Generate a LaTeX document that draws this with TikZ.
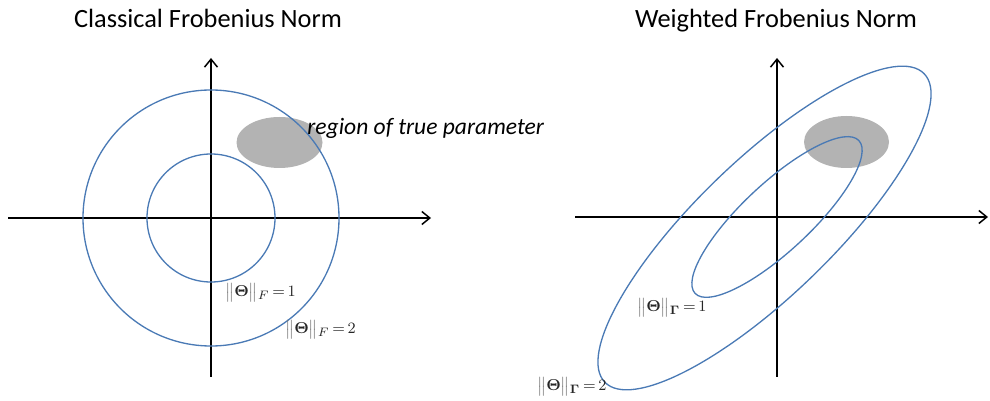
\documentclass[tikz,border=0pt]{standalone}
\usepackage{fontspec}
\usepackage{amsmath}
\usepackage{bm}
\setmainfont{Carlito}
\usetikzlibrary{positioning, arrows.meta, calc}
\definecolor{cNORM}{HTML}{4A7AB5}
\definecolor{cREGION}{HTML}{B3B3B3}
\tikzset{
  axis/.style={
    -{Straight Barb[length=1.6mm,width=2.6mm]},
    line width=0.85pt,
    draw=black
  },
  normcurve/.style={
    draw=cNORM,
    line width=0.75pt
  },
  region/.style={
    fill=cREGION,
    draw=none
  },
  plottitle/.style={
    font=\fontsize{15}{18}\selectfont,
    anchor=base,
    inner sep=0pt
  },
  regionlabel/.style={
    font=\fontsize{13.4}{16}\selectfont\itshape,
    anchor=base west,
    inner sep=0pt
  },
  normlabel/.style={
    font=\fontsize{9.5}{11}\selectfont,
    anchor=west,
    inner sep=0pt,
    text=black!85
  }
}
\newcommand{\nrm}[2]{$\textcolor{black!55}{\big\|}\bm{\Theta}\textcolor{black!55}{\big\|}_{#1}\,{=}\,#2$}

\begin{document}
\begin{tikzpicture}[x=0.02cm, y=-0.02cm]
  \useasboundingbox (0,0) rectangle (990,401);

  \coordinate (oL) at (211,218);
  \coordinate (oR) at (777,217);
  \coordinate (cG2) at (764.5,228);

  % classical norm
  \node[plottitle] (titleL) at (208,28) {Classical Frobenius Norm};
  \fill[region] (279.5,142.5) ellipse [x radius=43, y radius=25.5];
  \draw[axis] (8,218) -- (431,218);
  \draw[axis] (211,377) -- (211,58);
  \draw[normcurve] (oL) circle [radius=64];
  \draw[normcurve] (oL) circle [radius=128];
  \node[regionlabel] (truereg) at (307,135) {region of true parameter};
  \node[normlabel] (normF1) at (225,293) {\nrm{F}{1}};
  \node[normlabel] (normF2) at (285,330) {\nrm{F}{2}};

  % weighted norm
  \node[plottitle] (titleR) at (776,28) {Weighted Frobenius Norm};
  \fill[region] (846.5,142) ellipse [x radius=42.5, y radius=26];
  \draw[axis] (575,217) -- (988,217);
  \draw[axis] (777,377) -- (777,58);
  \draw[normcurve, rotate around={43:(oR)}] (oR) ellipse [x radius=112, y radius=34];
  \draw[normcurve, rotate around={44:(cG2)}] (cG2) ellipse [x radius=222, y radius=68];
  \node[normlabel] (normG1) at (637,308) {\nrm{\bm{\Gamma}}{1}};
  \node[normlabel] (normG2) at (537,387) {\nrm{\bm{\Gamma}}{2}};
\end{tikzpicture}
\end{document}
